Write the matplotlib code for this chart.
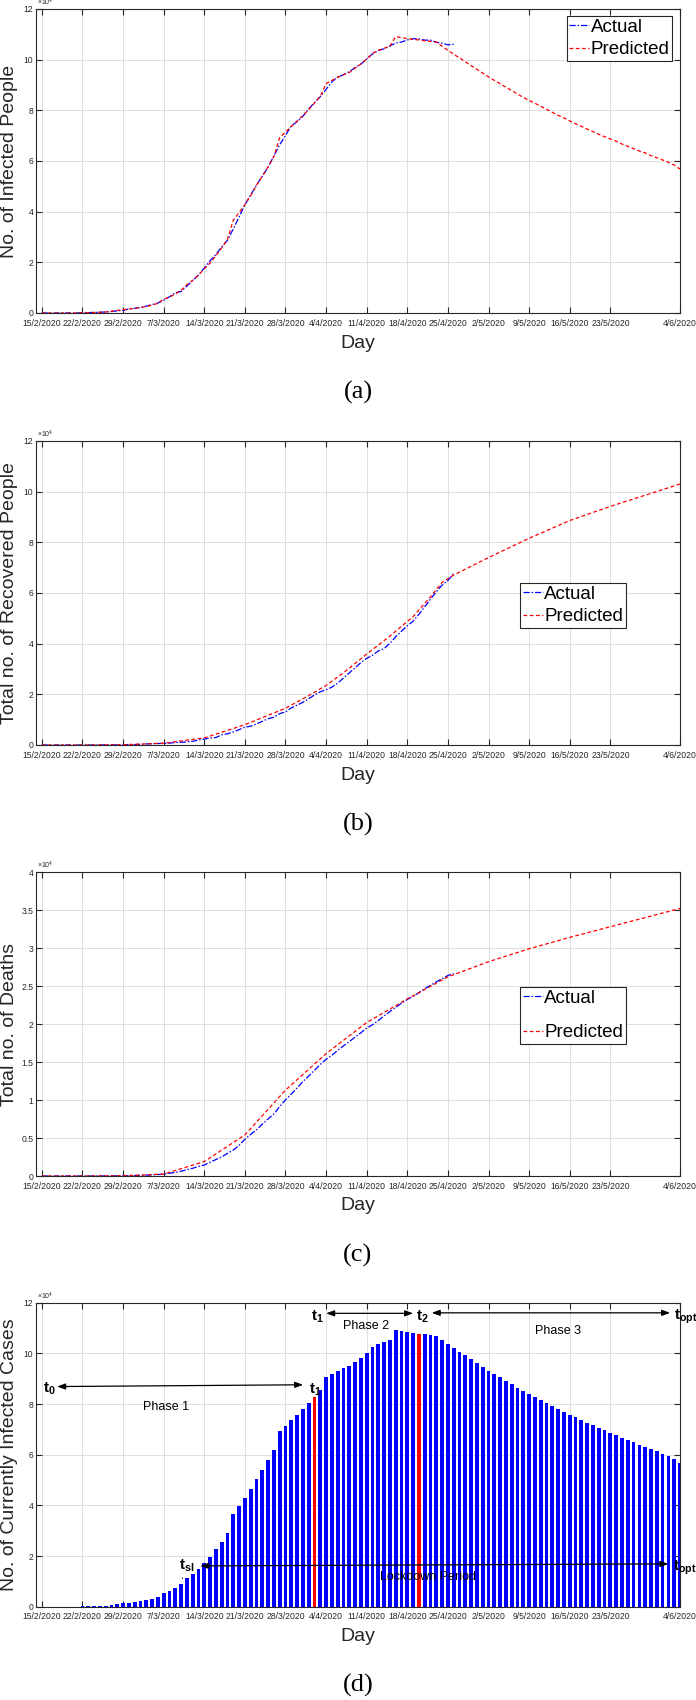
import matplotlib
matplotlib.use('Agg')
import matplotlib.pyplot as plt

plt.rcParams['font.family'] = ['Liberation Sans', 'DejaVu Sans']
plt.rcParams['mathtext.fontset'] = 'custom'
plt.rcParams['mathtext.rm'] = 'Liberation Sans'
plt.rcParams['mathtext.bf'] = 'Liberation Sans:bold'

# x axis: days counted from 15/2/2020
tick_days = [0, 7, 14, 21, 28, 35, 42, 49, 56, 63, 70, 77, 84, 91, 98, 110]
tick_labels = ['15/2/2020', '22/2/2020', '29/2/2020', '7/3/2020', '14/3/2020',
               '21/3/2020', '28/3/2020', '4/4/2020', '11/4/2020', '18/4/2020',
               '25/4/2020', '2/5/2020', '9/5/2020', '16/5/2020', '23/5/2020',
               '4/6/2020']

# all values in units of 10^4
# currently infected, actual (days 0..71)
infected_actual = [0.0003, 0.0003, 0.0003, 0.0003, 0.0003, 0.0003, 0.002, 0.0076,
                   0.015, 0.022, 0.031, 0.0385, 0.0588, 0.0821, 0.1049, 0.1577,
                   0.1835, 0.2263, 0.2706, 0.3296, 0.3916, 0.5061, 0.6387, 0.7985,
                   0.8514, 1.059, 1.2839, 1.4955, 1.775, 2.0603, 2.3073, 2.6062,
                   2.871, 3.319, 3.786, 4.2681, 4.6638, 5.0418, 5.403, 5.7521,
                   6.2013, 6.6414, 7.0065, 7.388, 7.5528, 7.7635, 8.0572, 8.3049,
                   8.5388, 8.8274, 9.1246, 9.3187, 9.4067, 9.5262, 9.6877, 9.8273,
                   10.0269, 10.2253, 10.3616, 10.4291, 10.5418, 10.6607, 10.6962,
                   10.7771, 10.8257, 10.8237, 10.7709, 10.7699, 10.6848, 10.6527,
                   10.5847, 10.6103]

# currently infected, predicted (days 0..110) - also the bars of panel (d)
infected_pred = [0.0003, 0.0003, 0.0003, 0.0003, 0.0003, 0.0003, 0.002, 0.008,
                 0.015, 0.02, 0.03, 0.04, 0.07, 0.10, 0.13, 0.16, 0.18, 0.22,
                 0.25, 0.32, 0.38, 0.54, 0.63, 0.75, 0.89, 1.12, 1.29, 1.50,
                 1.74, 1.97, 2.26, 2.57, 2.91, 3.66, 3.96, 4.28, 4.63, 5.05,
                 5.39, 5.78, 6.17, 6.92, 7.14, 7.36, 7.58, 7.79, 8.03, 8.29,
                 8.55, 9.05, 9.18, 9.30, 9.41, 9.49, 9.67, 9.83, 10.03, 10.25,
                 10.37, 10.45, 10.53, 10.91, 10.87, 10.83, 10.80, 10.78, 10.75,
                 10.72, 10.70, 10.53, 10.37, 10.21, 10.07, 9.92, 9.76, 9.62,
                 9.47, 9.32, 9.18, 9.05, 8.91, 8.78, 8.64, 8.51, 8.39, 8.28,
                 8.16, 8.04, 7.92, 7.80, 7.70, 7.58, 7.47, 7.37, 7.26, 7.16,
                 7.05, 6.96, 6.87, 6.78, 6.67, 6.58, 6.49, 6.39, 6.32, 6.21,
                 6.13, 6.04, 5.95, 5.84, 5.68]

# recovered, actual (days 0..71)
recovered_actual = [0, 0, 0, 0, 0, 0, 0, 0, 0, 0.0001, 0.0003, 0.0045, 0.0046,
                    0.005, 0.0083, 0.0149, 0.016, 0.0276, 0.0414, 0.0523, 0.0589,
                    0.0622, 0.0724, 0.1004, 0.1045, 0.1258, 0.1439, 0.1966,
                    0.2335, 0.2749, 0.2941, 0.4025, 0.444, 0.5129, 0.6072, 0.7024,
                    0.7432, 0.8326, 0.9362, 1.0361, 1.095, 1.2384, 1.303, 1.462,
                    1.5729, 1.6847, 1.8278, 1.9758, 2.0996, 2.1815, 2.2837,
                    2.4392, 2.6491, 2.847, 3.0455, 3.2534, 3.4211, 3.5435, 3.713,
                    3.8092, 4.0164, 4.2727, 4.4927, 4.7055, 4.8877, 5.16, 5.4543,
                    5.7576, 6.0498, 6.312, 6.4928, 6.78]

# recovered, predicted (read at these days)
recovered_pred_days = [0, 7, 14, 21, 28, 35, 42, 46, 49, 52, 56, 60, 64, 67, 69,
                       71, 77, 84, 91, 98, 104, 110]
recovered_pred = [0, 0, 0.01, 0.07, 0.28, 0.80, 1.45, 1.95, 2.35, 2.85, 3.59,
                  4.30, 5.07, 5.85, 6.42, 6.71, 7.40, 8.16, 8.86, 9.42, 9.86,
                  10.30]

# deaths, actual (days 0..71)
deaths_actual = [0, 0, 0, 0, 0, 0, 0.0001, 0.0002, 0.0003, 0.0007, 0.001, 0.0012,
                 0.0017, 0.0021, 0.0029, 0.0034, 0.0052, 0.0079, 0.0107, 0.0148,
                 0.0197, 0.0233, 0.0366, 0.0463, 0.0631, 0.0827, 0.1016, 0.1266,
                 0.1441, 0.1809, 0.2158, 0.2503, 0.2978, 0.3405, 0.4032, 0.4825,
                 0.5476, 0.6077, 0.682, 0.7503, 0.8165, 0.9134, 1.0023, 1.0779,
                 1.1591, 1.2428, 1.3155, 1.3915, 1.4681, 1.5362, 1.5887, 1.6523,
                 1.7127, 1.7669, 1.8279, 1.8849, 1.9468, 1.9899, 2.0465, 2.1067,
                 2.1645, 2.217, 2.2745, 2.3227, 2.366, 2.4114, 2.4648, 2.5085,
                 2.5549, 2.5969, 2.6384, 2.6644]

# deaths, predicted (read at these days)
deaths_pred_days = [0, 7, 14, 21, 28, 35, 42, 49, 56, 63, 70, 77, 84, 91, 98,
                    105, 110]
deaths_pred = [0, 0, 0.003, 0.025, 0.19, 0.54, 1.13, 1.61, 2.02, 2.33, 2.62,
               2.82, 2.99, 3.14, 3.28, 3.42, 3.52]

t1_day = 47   # start of phase 2 (red bar)
t2_day = 65   # start of phase 3 (red bar)

BLUE = '#0000ff'
RED = '#ff0000'
DARK = '#262626'

fig = plt.figure(figsize=(6.96, 17), dpi=100)
W, H = 696.0, 1700.0
ax_left, ax_right, ax_h = 36, 680, 304
ax_bottoms = [313, 745, 1176, 1606.7]


def make_axes(bottom_px):
    return fig.add_axes([ax_left / W, 1 - bottom_px / H,
                         (ax_right - ax_left) / W, ax_h / H])


def style_axes(ax, ylabel, ymax, ystep, ytl, panel):
    ax.set_xlim(-1, 110)
    ax.set_ylim(0, ymax)
    ax.set_xticks(tick_days)
    ax.set_xticklabels(tick_labels)
    yt = [i * ystep for i in range(int(round(ymax / ystep)) + 1)]
    ax.set_yticks(yt)
    ax.set_yticklabels(ytl)
    ax.tick_params(direction='in', length=4, width=0.8, top=True, right=True,
                   colors=DARK, labelsize=6.2)
    ax.tick_params(axis='x', pad=4)
    ax.tick_params(axis='y', pad=2)
    ax.grid(True, color='#dedede', lw=0.7)
    ax.set_axisbelow(True)
    for s in ax.spines.values():
        s.set_color(DARK)
        s.set_linewidth(0.8)
    ax.text(0.002, 1.002, r'$\times10^{4}$', transform=ax.transAxes,
            fontsize=5, color=DARK, ha='left', va='bottom')
    ax.text(0.5, -30 / ax_h, 'Day', transform=ax.transAxes, fontsize=14,
            color=DARK, ha='center', va='center')
    ax.text(-26 / 644, 0.5, ylabel, transform=ax.transAxes, fontsize=14,
            color=DARK, rotation=90, ha='center', va='center')
    ax.text(0.5, -79 / ax_h, panel, transform=ax.transAxes, fontsize=19,
            family='Liberation Serif', ha='center', va='center')


def add_legend(ax, anchor, spacing):
    leg = ax.legend(loc='upper right', bbox_to_anchor=anchor, borderaxespad=0,
                    fontsize=13.5, handlelength=1.05, handletextpad=0.08,
                    borderpad=0.15, labelspacing=spacing, fancybox=False,
                    framealpha=1, edgecolor=DARK)
    leg.get_frame().set_linewidth(0.8)


days_actual = list(range(len(infected_actual)))
days_all = list(range(len(infected_pred)))
dashdot = (0, (5, 1.5, 1.2, 1.5))
dashed = (0, (3, 2))

# (a) infected
ax = make_axes(ax_bottoms[0])
ax.plot(days_actual, infected_actual, color=BLUE, ls=dashdot, lw=0.9, label='Actual')
ax.plot(days_all, infected_pred, color=RED, ls=dashed, lw=0.9, label='Predicted')
style_axes(ax, 'No. of Infected People', 12, 2, ['0', '2', '4', '6', '8', '10', '12'], '(a)')
add_legend(ax, (0.988, 0.977), 0.28)

# (b) recovered
ax = make_axes(ax_bottoms[1])
ax.plot(days_actual, recovered_actual, color=BLUE, ls=dashdot, lw=0.9, label='Actual')
ax.plot(recovered_pred_days, recovered_pred, color=RED, ls=dashed, lw=0.9, label='Predicted')
style_axes(ax, 'Total no. of Recovered People', 12, 2, ['0', '2', '4', '6', '8', '10', '12'], '(b)')
add_legend(ax, (0.916, 0.533), 0.28)

# (c) deaths
ax = make_axes(ax_bottoms[2])
ax.plot(days_actual, deaths_actual, color=BLUE, ls=dashdot, lw=0.9, label='Actual')
ax.plot(deaths_pred_days, deaths_pred, color=RED, ls=dashed, lw=0.9, label='Predicted')
style_axes(ax, 'Total no. of Deaths', 4, 0.5,
           ['0', '0.5', '1', '1.5', '2', '2.5', '3', '3.5', '4'], '(c)')
add_legend(ax, (0.916, 0.623), 0.95)

# (d) currently infected bars with phases
ax = make_axes(ax_bottoms[3])
bar_colors = [RED if d in (t1_day, t2_day) else BLUE for d in days_all]
ax.bar(days_all, infected_pred, width=0.65, color=bar_colors, linewidth=0)
style_axes(ax, 'No. of Currently Infected Cases', 12, 2,
           ['0', '2', '4', '6', '8', '10', '12'], '(d)')

arrow = dict(arrowstyle='<|-|>,head_length=0.6,head_width=0.22', color='black',
             lw=0.9, mutation_scale=8, shrinkA=0, shrinkB=0)


def double_arrow(x1, y1, x2, y2):
    ax.annotate('', xy=(x2, y2), xytext=(x1, y1), arrowprops=arrow,
                annotation_clip=False)


def tlabel(x, y, sub):
    ax.text(x, y, r'$\mathbf{t_{%s}}$' % sub, fontsize=11, ha='center',
            va='center', clip_on=False)


# phase 1
tlabel(1.3, 8.62, '0')
double_arrow(2.64, 8.69, 45.05, 8.76)
tlabel(47.1, 8.55, '1')
ax.text(21.5, 7.9, 'Phase 1', fontsize=9, ha='center', va='center')
# phase 2
tlabel(47.5, 11.45, '1')
double_arrow(49.0, 11.58, 64.0, 11.58)
tlabel(65.6, 11.45, '2')
ax.text(55.9, 11.08, 'Phase 2', fontsize=9, ha='center', va='center')
# phase 3
double_arrow(67.2, 11.6, 108.3, 11.6)
tlabel(111.0, 11.45, 'opt')
ax.text(89.0, 10.88, 'Phase 3', fontsize=9, ha='center', va='center')
# lockdown period
tlabel(24.9, 1.62, 'sl')
ax.annotate('', xy=(24.4, 1.0), xytext=(24.1, 1.25),
            arrowprops=dict(arrowstyle='-', color='black', lw=0.6))
double_arrow(27.3, 1.61, 108.0, 1.69)
tlabel(110.8, 1.55, 'opt')
ax.text(66.6, 1.17, 'Lockdown Period', fontsize=9, ha='center', va='center')

fig.savefig('out.png', dpi=100)
